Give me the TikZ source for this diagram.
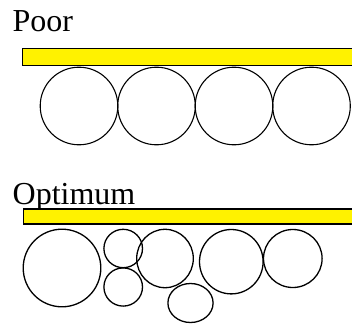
\documentclass[tikz,border=0pt]{standalone}
\usepackage{fontspec}
\setmainfont{Liberation Serif}
\begin{document}
\begin{tikzpicture}[x=1pt,y=-1pt,
  lbl/.style={anchor=base west,inner sep=0pt,font=\fontsize{32}{32}\selectfont},
  bar/.style={fill=yellow,draw=black},
  ball/.style={draw=black}]
\useasboundingbox (0,0) rectangle (352,323);
\node[lbl] (poor) at (12.5,31.5) {Poor};
\draw[bar,line width=1.2pt] (22.3,48.5) rectangle (362,65.7);
\foreach \cx in {79,156.5,234,311.5}{
  \draw[ball,line width=1.1pt] (\cx,106) circle (38.8);
}
\node[lbl] (opt) at (12.5,204.5) {Optimum};
\draw[bar,line width=1.8pt] (23.5,208.6) rectangle (362,224);
\begin{scope}[line width=1.3pt]
\draw[ball] (62,268) ellipse (38.8 and 38.8);
\draw[ball] (123.2,248.5) ellipse (19.3 and 19.2);
\draw[ball] (123.2,287) ellipse (19.3 and 19.1);
\draw[ball] (165,258.5) ellipse (28.3 and 29.2);
\draw[ball] (190.5,303) ellipse (22.6 and 19.5);
\draw[ball] (231.3,261.7) ellipse (31.8 and 32.2);
\draw[ball] (292.8,258.5) ellipse (29.3 and 29);
\end{scope}
\end{tikzpicture}
\end{document}
